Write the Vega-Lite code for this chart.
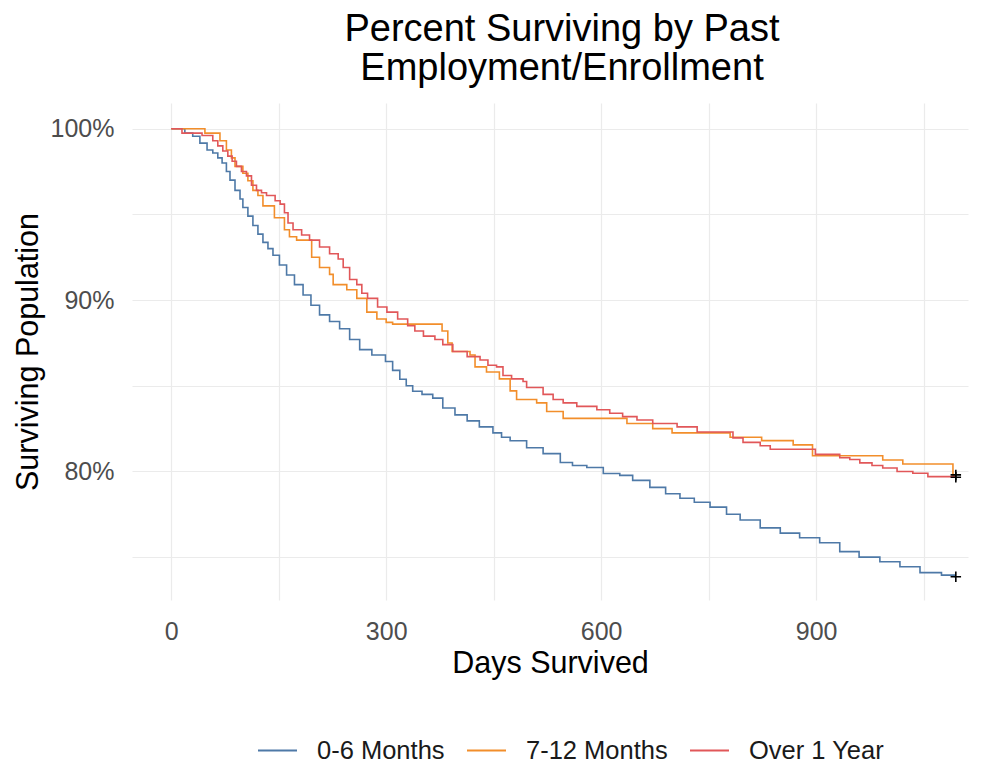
{
  "$schema": "https://vega.github.io/schema/vega-lite/v6.json",
  "width": 836,
  "height": 497,
  "autosize": {"type": "none"},
  "padding": {"left": 132, "top": 103, "right": 16, "bottom": 164},
  "background": "white",
  "config": {
    "font": "Liberation Sans",
    "view": {"stroke": null},
    "axis": {"gridColor": "#EBEBEB", "gridWidth": 1.2, "domain": false, "ticks": false, "labelFont": "Liberation Sans", "titleFont": "Liberation Sans"}
  },
  "title": {
    "text": ["Percent Surviving by Past", "Employment/Enrollment"],
    "fontSize": 38,
    "fontWeight": "normal",
    "color": "#000000",
    "font": "Liberation Sans",
    "anchor": "middle",
    "frame": "group",
    "dx": 12,
    "lineHeight": 39,
    "offset": 15
  },
  "datasets": {
    "surv": [
      {"g": "0-6 Months", "d": 0, "s": 100},
      {"g": "0-6 Months", "d": 19, "s": 99.74},
      {"g": "0-6 Months", "d": 30, "s": 99.56},
      {"g": "0-6 Months", "d": 40, "s": 99.16},
      {"g": "0-6 Months", "d": 50, "s": 98.76},
      {"g": "0-6 Months", "d": 58, "s": 98.58},
      {"g": "0-6 Months", "d": 65, "s": 98.3},
      {"g": "0-6 Months", "d": 71, "s": 98.0},
      {"g": "0-6 Months", "d": 77, "s": 97.5},
      {"g": "0-6 Months", "d": 82, "s": 97.0},
      {"g": "0-6 Months", "d": 89, "s": 96.4},
      {"g": "0-6 Months", "d": 96, "s": 95.9},
      {"g": "0-6 Months", "d": 100, "s": 95.4},
      {"g": "0-6 Months", "d": 107, "s": 94.9},
      {"g": "0-6 Months", "d": 114, "s": 94.35},
      {"g": "0-6 Months", "d": 121, "s": 93.85},
      {"g": "0-6 Months", "d": 128, "s": 93.37},
      {"g": "0-6 Months", "d": 135, "s": 93.0},
      {"g": "0-6 Months", "d": 142, "s": 92.62},
      {"g": "0-6 Months", "d": 151, "s": 92.05},
      {"g": "0-6 Months", "d": 161, "s": 91.46},
      {"g": "0-6 Months", "d": 172, "s": 90.9},
      {"g": "0-6 Months", "d": 184, "s": 90.3},
      {"g": "0-6 Months", "d": 195, "s": 89.7},
      {"g": "0-6 Months", "d": 207, "s": 89.14},
      {"g": "0-6 Months", "d": 221, "s": 88.75},
      {"g": "0-6 Months", "d": 235, "s": 88.33},
      {"g": "0-6 Months", "d": 249, "s": 87.7},
      {"g": "0-6 Months", "d": 263, "s": 87.11},
      {"g": "0-6 Months", "d": 280, "s": 86.8},
      {"g": "0-6 Months", "d": 299, "s": 86.42},
      {"g": "0-6 Months", "d": 309, "s": 85.9},
      {"g": "0-6 Months", "d": 319, "s": 85.38},
      {"g": "0-6 Months", "d": 328, "s": 85.0},
      {"g": "0-6 Months", "d": 337, "s": 84.68},
      {"g": "0-6 Months", "d": 350, "s": 84.5},
      {"g": "0-6 Months", "d": 365, "s": 84.28},
      {"g": "0-6 Months", "d": 379, "s": 83.7},
      {"g": "0-6 Months", "d": 396, "s": 83.3},
      {"g": "0-6 Months", "d": 413, "s": 82.95},
      {"g": "0-6 Months", "d": 430, "s": 82.6},
      {"g": "0-6 Months", "d": 449, "s": 82.25},
      {"g": "0-6 Months", "d": 461, "s": 82.0},
      {"g": "0-6 Months", "d": 473, "s": 81.79},
      {"g": "0-6 Months", "d": 496, "s": 81.38},
      {"g": "0-6 Months", "d": 519, "s": 81.04},
      {"g": "0-6 Months", "d": 543, "s": 80.52},
      {"g": "0-6 Months", "d": 560, "s": 80.35},
      {"g": "0-6 Months", "d": 580, "s": 80.23},
      {"g": "0-6 Months", "d": 603, "s": 79.88},
      {"g": "0-6 Months", "d": 626, "s": 79.77},
      {"g": "0-6 Months", "d": 644, "s": 79.48},
      {"g": "0-6 Months", "d": 668, "s": 79.07},
      {"g": "0-6 Months", "d": 690, "s": 78.7},
      {"g": "0-6 Months", "d": 710, "s": 78.44},
      {"g": "0-6 Months", "d": 730, "s": 78.2},
      {"g": "0-6 Months", "d": 752, "s": 77.92},
      {"g": "0-6 Months", "d": 775, "s": 77.5},
      {"g": "0-6 Months", "d": 794, "s": 77.17},
      {"g": "0-6 Months", "d": 822, "s": 76.71},
      {"g": "0-6 Months", "d": 850, "s": 76.4},
      {"g": "0-6 Months", "d": 877, "s": 76.13},
      {"g": "0-6 Months", "d": 905, "s": 75.84},
      {"g": "0-6 Months", "d": 933, "s": 75.32},
      {"g": "0-6 Months", "d": 960, "s": 75.0},
      {"g": "0-6 Months", "d": 989, "s": 74.73},
      {"g": "0-6 Months", "d": 1017, "s": 74.44},
      {"g": "0-6 Months", "d": 1045, "s": 74.1},
      {"g": "0-6 Months", "d": 1075, "s": 73.95},
      {"g": "0-6 Months", "d": 1094, "s": 73.86},
      {"g": "0-6 Months", "d": 1095, "s": 73.86},

      {"g": "7-12 Months", "d": 0, "s": 100},
      {"g": "7-12 Months", "d": 47, "s": 99.74},
      {"g": "7-12 Months", "d": 68, "s": 99.3},
      {"g": "7-12 Months", "d": 77, "s": 98.76},
      {"g": "7-12 Months", "d": 84, "s": 98.3},
      {"g": "7-12 Months", "d": 89, "s": 97.8},
      {"g": "7-12 Months", "d": 100, "s": 97.4},
      {"g": "7-12 Months", "d": 107, "s": 96.96},
      {"g": "7-12 Months", "d": 114, "s": 96.4},
      {"g": "7-12 Months", "d": 121, "s": 96.1},
      {"g": "7-12 Months", "d": 128, "s": 95.5},
      {"g": "7-12 Months", "d": 144, "s": 94.8},
      {"g": "7-12 Months", "d": 158, "s": 94.1},
      {"g": "7-12 Months", "d": 165, "s": 93.7},
      {"g": "7-12 Months", "d": 175, "s": 93.5},
      {"g": "7-12 Months", "d": 196, "s": 92.5},
      {"g": "7-12 Months", "d": 207, "s": 91.9},
      {"g": "7-12 Months", "d": 221, "s": 91.5},
      {"g": "7-12 Months", "d": 226, "s": 90.9},
      {"g": "7-12 Months", "d": 245, "s": 90.6},
      {"g": "7-12 Months", "d": 259, "s": 90.1},
      {"g": "7-12 Months", "d": 273, "s": 89.3},
      {"g": "7-12 Months", "d": 287, "s": 88.9},
      {"g": "7-12 Months", "d": 300, "s": 88.7},
      {"g": "7-12 Months", "d": 309, "s": 88.6},
      {"g": "7-12 Months", "d": 378, "s": 88.2},
      {"g": "7-12 Months", "d": 386, "s": 87.5},
      {"g": "7-12 Months", "d": 392, "s": 87.0},
      {"g": "7-12 Months", "d": 417, "s": 86.8},
      {"g": "7-12 Months", "d": 424, "s": 86.1},
      {"g": "7-12 Months", "d": 440, "s": 85.8},
      {"g": "7-12 Months", "d": 458, "s": 85.4},
      {"g": "7-12 Months", "d": 473, "s": 84.7},
      {"g": "7-12 Months", "d": 482, "s": 84.2},
      {"g": "7-12 Months", "d": 510, "s": 84.0},
      {"g": "7-12 Months", "d": 524, "s": 83.5},
      {"g": "7-12 Months", "d": 547, "s": 83.1},
      {"g": "7-12 Months", "d": 636, "s": 82.8},
      {"g": "7-12 Months", "d": 672, "s": 82.5},
      {"g": "7-12 Months", "d": 699, "s": 82.25},
      {"g": "7-12 Months", "d": 780, "s": 82.0},
      {"g": "7-12 Months", "d": 824, "s": 81.8},
      {"g": "7-12 Months", "d": 868, "s": 81.55},
      {"g": "7-12 Months", "d": 895, "s": 80.92},
      {"g": "7-12 Months", "d": 993, "s": 80.67},
      {"g": "7-12 Months", "d": 1021, "s": 80.44},
      {"g": "7-12 Months", "d": 1091, "s": 79.77},
      {"g": "7-12 Months", "d": 1095, "s": 79.77},

      {"g": "Over 1 Year", "d": 0, "s": 100},
      {"g": "Over 1 Year", "d": 15, "s": 99.74},
      {"g": "Over 1 Year", "d": 43, "s": 99.6},
      {"g": "Over 1 Year", "d": 58, "s": 99.3},
      {"g": "Over 1 Year", "d": 65, "s": 99.0},
      {"g": "Over 1 Year", "d": 72, "s": 98.7},
      {"g": "Over 1 Year", "d": 79, "s": 98.4},
      {"g": "Over 1 Year", "d": 85, "s": 98.1},
      {"g": "Over 1 Year", "d": 91, "s": 97.8},
      {"g": "Over 1 Year", "d": 98, "s": 97.5},
      {"g": "Over 1 Year", "d": 105, "s": 97.25},
      {"g": "Over 1 Year", "d": 112, "s": 96.7},
      {"g": "Over 1 Year", "d": 119, "s": 96.4},
      {"g": "Over 1 Year", "d": 126, "s": 96.26},
      {"g": "Over 1 Year", "d": 133, "s": 96.1},
      {"g": "Over 1 Year", "d": 145, "s": 95.8},
      {"g": "Over 1 Year", "d": 152, "s": 95.6},
      {"g": "Over 1 Year", "d": 158, "s": 95.1},
      {"g": "Over 1 Year", "d": 163, "s": 94.5},
      {"g": "Over 1 Year", "d": 170, "s": 94.1},
      {"g": "Over 1 Year", "d": 182, "s": 93.8},
      {"g": "Over 1 Year", "d": 193, "s": 93.5},
      {"g": "Over 1 Year", "d": 207, "s": 93.1},
      {"g": "Over 1 Year", "d": 221, "s": 92.7},
      {"g": "Over 1 Year", "d": 233, "s": 92.4},
      {"g": "Over 1 Year", "d": 240, "s": 91.9},
      {"g": "Over 1 Year", "d": 249, "s": 91.2},
      {"g": "Over 1 Year", "d": 259, "s": 90.9},
      {"g": "Over 1 Year", "d": 266, "s": 90.4},
      {"g": "Over 1 Year", "d": 274, "s": 90.1},
      {"g": "Over 1 Year", "d": 288, "s": 89.6},
      {"g": "Over 1 Year", "d": 301, "s": 89.3},
      {"g": "Over 1 Year", "d": 316, "s": 88.9},
      {"g": "Over 1 Year", "d": 330, "s": 88.5},
      {"g": "Over 1 Year", "d": 340, "s": 88.2},
      {"g": "Over 1 Year", "d": 352, "s": 87.9},
      {"g": "Over 1 Year", "d": 368, "s": 87.7},
      {"g": "Over 1 Year", "d": 379, "s": 87.4},
      {"g": "Over 1 Year", "d": 393, "s": 87.0},
      {"g": "Over 1 Year", "d": 413, "s": 86.7},
      {"g": "Over 1 Year", "d": 431, "s": 86.5},
      {"g": "Over 1 Year", "d": 442, "s": 86.2},
      {"g": "Over 1 Year", "d": 454, "s": 86.1},
      {"g": "Over 1 Year", "d": 463, "s": 85.6},
      {"g": "Over 1 Year", "d": 475, "s": 85.4},
      {"g": "Over 1 Year", "d": 491, "s": 85.25},
      {"g": "Over 1 Year", "d": 496, "s": 84.9},
      {"g": "Over 1 Year", "d": 519, "s": 84.5},
      {"g": "Over 1 Year", "d": 533, "s": 84.2},
      {"g": "Over 1 Year", "d": 547, "s": 84.0},
      {"g": "Over 1 Year", "d": 566, "s": 83.8},
      {"g": "Over 1 Year", "d": 594, "s": 83.6},
      {"g": "Over 1 Year", "d": 612, "s": 83.4},
      {"g": "Over 1 Year", "d": 630, "s": 83.2},
      {"g": "Over 1 Year", "d": 650, "s": 83.0},
      {"g": "Over 1 Year", "d": 672, "s": 82.8},
      {"g": "Over 1 Year", "d": 706, "s": 82.6},
      {"g": "Over 1 Year", "d": 734, "s": 82.3},
      {"g": "Over 1 Year", "d": 784, "s": 81.96},
      {"g": "Over 1 Year", "d": 798, "s": 81.7},
      {"g": "Over 1 Year", "d": 822, "s": 81.5},
      {"g": "Over 1 Year", "d": 836, "s": 81.3},
      {"g": "Over 1 Year", "d": 899, "s": 81.0},
      {"g": "Over 1 Year", "d": 933, "s": 80.8},
      {"g": "Over 1 Year", "d": 947, "s": 80.7},
      {"g": "Over 1 Year", "d": 961, "s": 80.5},
      {"g": "Over 1 Year", "d": 978, "s": 80.35},
      {"g": "Over 1 Year", "d": 993, "s": 80.2},
      {"g": "Over 1 Year", "d": 1013, "s": 80.0},
      {"g": "Over 1 Year", "d": 1035, "s": 79.9},
      {"g": "Over 1 Year", "d": 1056, "s": 79.7},
      {"g": "Over 1 Year", "d": 1095, "s": 79.7}
    ],
    "censor": [
      {"g": "0-6 Months", "d": 1095, "s": 73.86},
      {"g": "7-12 Months", "d": 1095, "s": 79.8},
      {"g": "Over 1 Year", "d": 1095, "s": 79.66}
    ]
  },
  "layer": [
    {
      "data": {"name": "surv"},
      "mark": {"type": "line", "interpolate": "step-after", "strokeWidth": 1.6},
      "encoding": {
        "x": {
          "field": "d", "type": "quantitative",
          "scale": {"domain": [-54.75, 1112], "nice": false, "zero": false},
          "axis": {
            "title": "Days Survived",
            "values": [0, 150, 300, 450, 600, 750, 900, 1050],
            "labelExpr": "datum.value % 300 === 0 ? datum.label : ''",
            "labelFontSize": 25, "labelColor": "#4D4D4D", "labelPadding": 19,
            "titleFontSize": 30.5, "titleFontWeight": "normal", "titleColor": "#000000", "titlePadding": 4
          }
        },
        "y": {
          "field": "s", "type": "quantitative",
          "scale": {"domain": [72.5, 101.5], "nice": false, "zero": false},
          "axis": {
            "title": "Surviving Population",
            "values": [75, 80, 85, 90, 95, 100],
            "labelExpr": "datum.value % 10 === 0 ? datum.value + '%' : ''",
            "labelFontSize": 25, "labelColor": "#4D4D4D", "labelPadding": 18,
            "titleFontSize": 30.5, "titleFontWeight": "normal", "titleColor": "#000000", "titlePadding": 7
          }
        },
        "color": {
          "field": "g", "type": "nominal",
          "scale": {"domain": ["0-6 Months", "7-12 Months", "Over 1 Year"], "range": ["#4E79A7", "#F28E2B", "#E15759"]},
          "legend": {
            "title": null,
            "orient": "none",
            "direction": "horizontal",
            "legendX": 125,
            "legendY": 627,
            "padding": 0,
            "symbolType": "stroke",
            "symbolSize": 1521,
            "symbolStrokeWidth": 2,
            "labelFontSize": 25.5,
            "labelColor": "#1A1A1A",
            "labelFont": "Liberation Sans",
            "labelOffset": 19,
            "columnPadding": 18
          }
        }
      }
    },
    {
      "data": {"name": "censor"},
      "mark": {"type": "point", "shape": "M-1,0H1M0,-1V1", "filled": false, "stroke": "#000000", "strokeWidth": 1.6, "size": 110, "opacity": 1},
      "encoding": {
        "x": {"field": "d", "type": "quantitative"},
        "y": {"field": "s", "type": "quantitative"}
      }
    }
  ]
}
